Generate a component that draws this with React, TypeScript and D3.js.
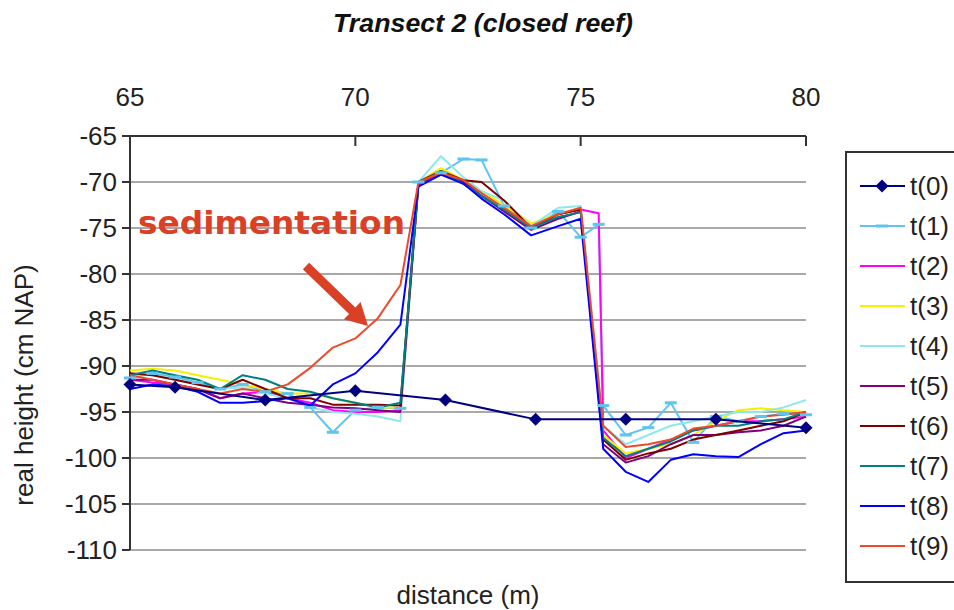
import React from "react";
import * as d3 from "d3";

const TITLE = "Transect 2 (closed reef)";
const X_LABEL = "distance (m)";
const Y_LABEL = "real height (cm NAP)";
const X_TICKS = [65, 70, 75, 80];
const Y_TICKS = [-65, -70, -75, -80, -85, -90, -95, -100, -105, -110];

// t(0) baseline survey
const T0_DIST = [65, 66, 68, 70, 72, 74, 76, 78, 80];
const T0_VAL = [-92.0, -92.3, -93.7, -92.7, -93.7, -95.8, -95.8, -95.8, -96.7];

// later surveys share this distance grid (null = no measurement)
const DIST = [65, 65.5, 66, 66.5, 67, 67.5, 68, 68.5, 69, 69.5, 70, 70.5, 71, 71.4, 71.9, 72.4, 72.8, 73.3, 73.9, 74.5, 75, 75.4, 75.5, 76, 76.5, 77, 77.5, 78, 78.5, 79, 79.5, 80];

const T1 = [-91.3, -90.8, -91.2, -91.8, -92.5, -92.0, -92.8, -93.0, -94.5, -97.2, -94.8, -94.5, -94.6, -70.0, -69.0, -67.5, -67.6, -72.6, -75.0, -73.2, -76.0, -74.6, -94.3, -97.5, -96.7, -94.0, -98.3, -95.5, -96.0, -95.5, -95.2, -95.3];
const T2 = [-91.5, -91.8, -92.0, -92.5, -93.5, -93.0, -92.8, -93.5, -94.0, -94.8, -95.0, -95.0, -94.8, -70.3, -69.2, -70.0, -71.5, -73.0, -75.0, -73.5, -73.0, -73.4, -97.0, -100.0, -99.0, -98.0, -97.0, -96.5, -96.0, -96.0, -95.8, -95.5];
const T3 = [-90.5, -90.3, -90.5, -91.0, -91.5, -92.0, -92.5, -93.0, -93.0, -93.5, -94.0, -94.5, -94.5, -70.0, -68.5, -69.8, -71.0, -72.5, -74.5, -73.5, -72.8, null, -97.5, -99.5, -99.0, -98.5, -97.5, -96.0, -94.8, -94.6, -94.8, -95.0];
const T4 = [-91.0, -91.0, -91.5, -92.0, -92.5, -92.3, -93.0, -93.5, -94.5, -95.0, -95.2, -95.5, -96.0, -70.0, -67.2, -69.5, -71.0, -72.0, -74.8, -72.8, -72.6, null, -96.5, -98.5, -97.5, -96.5, -96.0, -95.5, -95.0, -95.0, -94.5, -93.7];
const T5 = [-91.5, -91.5, -92.0, -92.5, -93.5, -93.0, -93.5, -94.0, -94.2, -94.5, -94.6, -94.8, -95.0, -70.2, -69.0, -70.0, -71.5, -73.2, -75.2, -74.0, -73.2, null, -98.5, -100.5, -99.8, -98.5, -97.5, -97.5, -97.2, -97.0, -96.5, -95.5];
const T6 = [-90.8, -91.0, -91.5, -92.0, -92.5, -91.5, -92.5, -93.5, -93.5, -94.2, -94.2, -94.2, -94.3, -70.0, -68.8, -69.8, -70.0, -72.0, -75.0, -73.5, -73.0, null, -98.0, -100.2, -99.5, -99.0, -98.0, -97.5, -97.0, -96.5, -96.0, -95.0];
const T7 = [-91.0, -90.5, -91.0, -91.5, -92.5, -91.0, -91.5, -92.5, -92.8, -93.5, -94.0, -94.5, -94.0, -70.2, -68.8, -70.2, -71.5, -73.0, -75.0, -73.8, -73.3, null, -97.8, -99.8, -99.0, -98.2, -97.0, -96.5, -96.5, -96.0, -95.8, -95.0];
const T8 = [-92.5, -92.0, -92.2, -92.8, -94.0, -94.0, -93.8, -93.5, -94.3, -92.0, -90.8, -88.5, -85.5, -70.5, -69.2, -70.2, -71.8, -73.5, -75.8, -74.8, -74.0, null, -99.0, -101.5, -102.6, -100.2, -99.6, -99.8, -99.9, -98.5, -97.3, -97.0];
const T9 = [-91.0, -91.5, -92.0, -92.5, -93.0, -92.5, -92.8, -92.0, -90.2, -88.0, -87.0, -84.8, -81.2, -70.0, -69.0, -69.8, -71.2, -72.8, -74.8, -73.5, -72.8, null, -96.5, -98.8, -98.5, -98.0, -96.8, -96.5, -96.0, -95.5, -95.3, -95.0];

const SERIES_NAMES = ["t(0)", "t(1)", "t(2)", "t(3)", "t(4)", "t(5)", "t(6)", "t(7)", "t(8)", "t(9)"];
const SERIES_COLORS = ["#000080", "#5ec4f0", "#ff00ff", "#f5f000", "#8fe8ea", "#800080", "#800000", "#008080", "#0000ff", "#ee4a2a"];
const LATER = [T1, T2, T3, T4, T5, T6, T7, T8, T9];

const ANNOTATION = "sedimentation";

const W = 954, H = 610;
const left = 130, right = 806, top = 136, bottom = 550;

export default function App() {
  const x = d3.scaleLinear().domain([65, 80]).range([left, right]);
  const y = d3.scaleLinear().domain([-110, -65]).range([bottom, top]);
  const line = d3.line<[number, number]>().x(d => x(d[0])).y(d => y(d[1]));

  const laterPaths = LATER.map(vals => {
    const pts: [number, number][] = [];
    vals.forEach((v, i) => { if (v !== null) pts.push([DIST[i], v as number]); });
    return pts;
  });
  const t0pts: [number, number][] = T0_DIST.map((d, i) => [d, T0_VAL[i]]);

  const font = "'Liberation Sans', Arial, sans-serif";
  const diamond = (cx: number, cy: number, r: number) => `M${cx},${cy - r}L${cx + r},${cy}L${cx},${cy + r}L${cx - r},${cy}Z`;

  // arrow geometry (annotation)
  const ax1 = 306, ay1 = 266, ax2 = 368, ay2 = 326;
  const ang = Math.atan2(ay2 - ay1, ax2 - ax1);
  const headLen = 22, headW = 12, shaftW = 4.5;
  const bx = ax2 - headLen * Math.cos(ang), by = ay2 - headLen * Math.sin(ang);
  const px = -Math.sin(ang), py = Math.cos(ang);
  const arrowPts = [
    [ax1 + px * shaftW, ay1 + py * shaftW],
    [bx + px * shaftW, by + py * shaftW],
    [bx + px * headW, by + py * headW],
    [ax2, ay2],
    [bx - px * headW, by - py * headW],
    [bx - px * shaftW, by - py * shaftW],
    [ax1 - px * shaftW, ay1 - py * shaftW],
  ].map(p => p.join(",")).join(" ");

  const legX = 846, legY = 152, legStep = 40;

  return (
    <svg width={W} height={H} style={{ position: "absolute", left: 0, top: 0, background: "#fff" }} fontFamily={font}>
      <rect width={W} height={H} fill="#fff" />
      <text x={483} y={32} textAnchor="middle" fontSize={26} fontWeight="bold" fontStyle="italic" textLength={300} lengthAdjust="spacingAndGlyphs" fill="#111">{TITLE}</text>

      {/* gridlines */}
      {Y_TICKS.map(t => (
        <line key={"g" + t} x1={left} x2={right} y1={y(t)} y2={y(t)} stroke="#8c8c8c" strokeWidth={1.6} />
      ))}
      {/* top axis */}
      <line x1={left} x2={right} y1={top} y2={top} stroke="#333" strokeWidth={2} />
      {X_TICKS.map(t => (
        <g key={"xt" + t}>
          <line x1={x(t)} x2={x(t)} y1={top} y2={top + 10} stroke="#333" strokeWidth={2} />
          <text x={x(t)} y={106} textAnchor="middle" fontSize={26} fill="#222">{t}</text>
        </g>
      ))}
      {/* left axis */}
      <line x1={left} x2={left} y1={top} y2={bottom} stroke="#333" strokeWidth={2} />
      {Y_TICKS.map(t => (
        <g key={"yt" + t}>
          <line x1={left - 8} x2={left} y1={y(t)} y2={y(t)} stroke="#333" strokeWidth={2} />
          <text x={117} y={y(t) + 9} textAnchor="end" fontSize={26} fill="#222">{t}</text>
        </g>
      ))}

      {/* series */}
      {laterPaths.map((pts, i) => (
        <path key={"s" + i} d={line(pts) || ""} fill="none" stroke={SERIES_COLORS[i + 1]} strokeWidth={2} strokeLinejoin="round" />
      ))}
      {laterPaths[0].map((p, j) => (
        <line key={"m" + j} x1={x(p[0]) - 6} x2={x(p[0]) + 6} y1={y(p[1])} y2={y(p[1])} stroke={SERIES_COLORS[1]} strokeWidth={3} />
      ))}
      <path d={line(t0pts) || ""} fill="none" stroke={SERIES_COLORS[0]} strokeWidth={2} />
      {t0pts.map((p, j) => (
        <path key={"d" + j} d={diamond(x(p[0]), y(p[1]), 6.5)} fill={SERIES_COLORS[0]} />
      ))}

      {/* annotation */}
      <text x={138} y={234} fontFamily="'DejaVu Sans', Verdana, sans-serif" fontWeight="bold" fontSize={32} fill="#d94025" textLength={267} lengthAdjust="spacingAndGlyphs">{ANNOTATION}</text>
      <polygon points={arrowPts} fill="#d94025" />

      {/* axis titles */}
      <text x={468} y={604} textAnchor="middle" fontSize={26} fill="#222">{X_LABEL}</text>
      <text transform={`translate(33,385) rotate(-90)`} textAnchor="middle" fontSize={26} fill="#222">{Y_LABEL}</text>

      {/* legend */}
      <rect x={legX} y={legY} width={120} height={430} fill="#fff" stroke="#333" strokeWidth={2} />
      {SERIES_NAMES.map((n, i) => {
        const cy = legY + 34 + i * legStep;
        return (
          <g key={"l" + i}>
            <line x1={860} x2={905} y1={cy} y2={cy} stroke={SERIES_COLORS[i]} strokeWidth={2} />
            {i === 0 && <path d={diamond(882, cy, 6.5)} fill={SERIES_COLORS[0]} />}
            {i === 1 && <line x1={876} x2={888} y1={cy} y2={cy} stroke={SERIES_COLORS[1]} strokeWidth={3} />}
            <text x={910} y={cy + 9} fontSize={26} fill="#222">{n}</text>
          </g>
        );
      })}
    </svg>
  );
}
